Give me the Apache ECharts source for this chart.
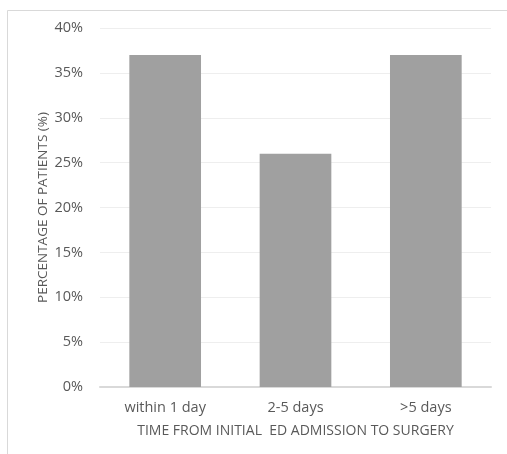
<!DOCTYPE html>
<html>
<head>
<meta charset="utf-8">
<script src="https://cdn.jsdelivr.net/npm/echarts@6/dist/echarts.min.js"></script>
<style>html,body{margin:0;padding:0;background:#fff;}#c{width:507px;height:454px;}</style>
</head>
<body>
<div id="c"></div>
<script>
var categories = ['within 1 day', '2-5 days', '>5 days'];
var percentValues = [37, 26, 37];
var yTicks = [0, 5, 10, 15, 20, 25, 30, 35, 40];

var chart = echarts.init(document.getElementById('c'));
chart.setOption({
  animation: false,
  backgroundColor: '#fff',
  graphic: [{
    type: 'rect',
    shape: { x: 7.5, y: 10.5, width: 520, height: 470 },
    style: { fill: 'none', stroke: '#d9d9d9', lineWidth: 1 },
    silent: true
  }],
  grid: { left: 100, right: 16, top: 28, bottom: 67 },
  xAxis: {
    type: 'category',
    data: categories,
    name: 'TIME FROM INITIAL  ED ADMISSION TO SURGERY',
    nameLocation: 'middle',
    nameGap: 37,
    nameTextStyle: { color: '#595959', fontFamily: 'Open Sans', fontSize: 14 },
    axisLine: { lineStyle: { color: '#d9d9d9', width: 2 } },
    axisTick: { show: false },
    axisLabel: { color: '#595959', fontFamily: 'Open Sans', fontSize: 14.5, margin: 13 }
  },
  yAxis: {
    type: 'value',
    min: 0, max: 40, interval: 5,
    name: 'PERCENTAGE OF PATIENTS (%)',
    nameLocation: 'middle',
    nameGap: 50,
    nameMoveOverlap: false,
    nameRotate: 90,
    nameTextStyle: { color: '#595959', fontFamily: 'Open Sans', fontSize: 13.5 },
    axisLine: { show: false },
    axisTick: { show: false },
    splitLine: { lineStyle: { color: '#eeeeee', width: 1 } },
    axisLabel: {
      color: '#595959', fontFamily: 'Open Sans', fontSize: 14.5, margin: 17,
      formatter: function (v) { return yTicks.indexOf(v) >= 0 ? v + '%' : ''; }
    }
  },
  series: [{
    type: 'bar',
    data: percentValues,
    barWidth: '55%',
    itemStyle: { color: '#a0a0a0' }
  }]
});
</script>
</body>
</html>
